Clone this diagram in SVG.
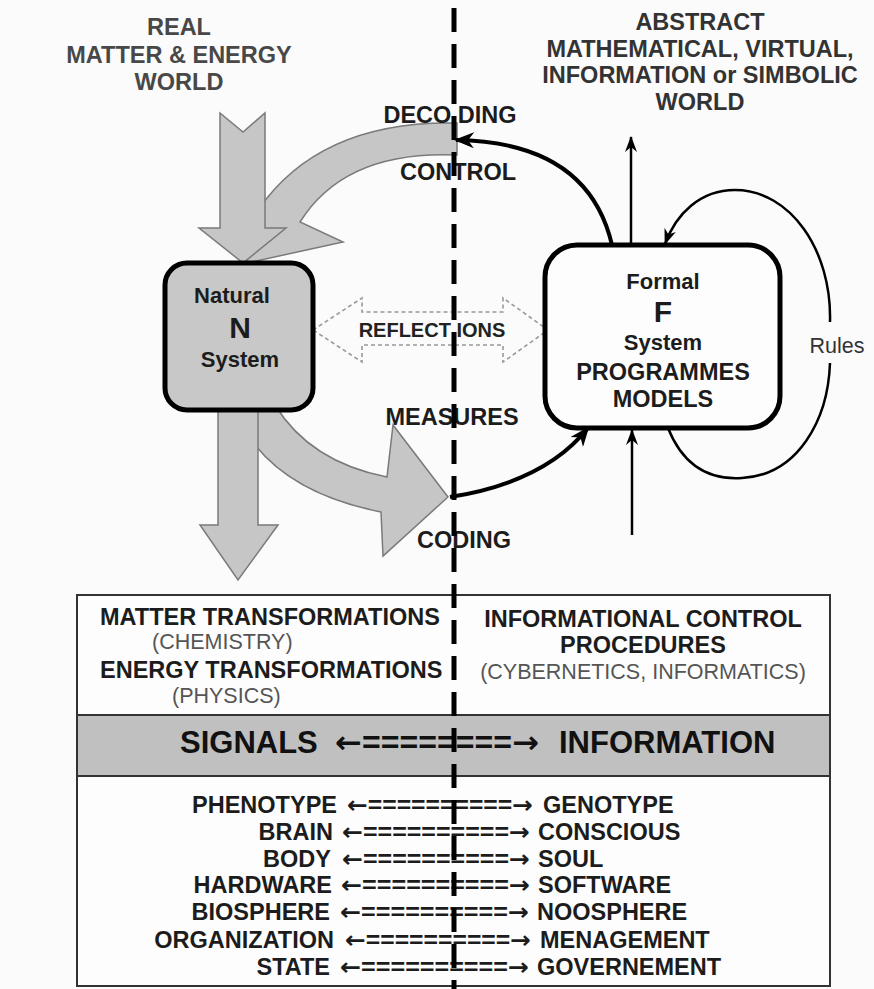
<svg xmlns="http://www.w3.org/2000/svg" width="874" height="989" viewBox="0 0 874 989">
<defs>
<style>
text{font-family:"Liberation Sans",Arial,"DejaVu Sans",sans-serif}
.b{font-weight:bold;font-size:23.5px;fill:#1c1c1c}
.t{font-weight:bold;font-size:23.5px;fill:#484848;text-anchor:middle}
.r{font-size:21.5px;fill:#555}
.c{text-anchor:middle}
.e{text-anchor:end}
.big{font-weight:bold;font-size:31px;fill:#111}
.ar{font-family:"DejaVu Sans",sans-serif;font-weight:bold}
.ga{fill:#c6c6c6;stroke:#7a7a7a;stroke-width:1.5}
.bl{fill:none;stroke:#000;stroke-width:4}
.th{fill:none;stroke:#000;stroke-width:2.5}
.node{stroke:#000;stroke-width:5}
</style>
<marker id="ah" viewBox="0 0 20 16" refX="18" refY="8" markerWidth="20" markerHeight="16" orient="auto" markerUnits="userSpaceOnUse"><path d="M0,0 L20,8 L0,16 L6,8 z" fill="#000"/></marker>
<marker id="ah2" viewBox="0 0 16 12" refX="15" refY="6" markerWidth="16" markerHeight="12" orient="auto" markerUnits="userSpaceOnUse"><path d="M0,0 L16,6 L0,12 L5,6 z" fill="#000"/></marker>
</defs>
<rect x="0" y="0" width="874" height="989" fill="#fbfbfb"/>

<g id="titles">
<text class="t" x="179" y="35">REAL</text>
<text class="t" x="179" y="63">MATTER &amp; ENERGY</text>
<text class="t" x="179" y="90">WORLD</text>
<text class="t" x="700" y="30" style="fill:#333">ABSTRACT</text>
<text class="t" x="700" y="57" style="fill:#333">MATHEMATICAL, VIRTUAL,</text>
<text class="t" x="700" y="83" style="fill:#333">INFORMATION or SIMBOLIC</text>
<text class="t" x="700" y="110" style="fill:#333">WORLD</text>
</g>

<g id="table">
<rect x="77" y="595" width="753" height="391" fill="#fdfdfd" stroke="#333" stroke-width="2"/>
<rect x="77" y="715" width="753" height="61" fill="#c0c0c0" stroke="#333" stroke-width="2"/>
<text class="b" x="100" y="625">MATTER TRANSFORMATIONS</text>
<text class="r" x="152" y="649">(CHEMISTRY)</text>
<text class="b" x="100" y="678">ENERGY TRANSFORMATIONS</text>
<text class="r" x="172" y="703">(PHYSICS)</text>
<text class="b c" x="643" y="627">INFORMATIONAL CONTROL</text>
<text class="b c" x="643" y="653">PROCEDURES</text>
<text class="r c" x="643" y="679">(CYBERNETICS, INFORMATICS)</text>
<text class="big" x="180" y="753">SIGNALS</text>
<text class="big" x="335" y="753" textLength="204" lengthAdjust="spacingAndGlyphs"><tspan class="ar">←</tspan>========<tspan class="ar">→</tspan></text>
<text class="big" x="559" y="753">INFORMATION</text>
<g id="pairs">
<text class="b e" x="337" y="813">PHENOTYPE</text>
<text class="b" x="347" y="813" textLength="186" lengthAdjust="spacingAndGlyphs"><tspan class="ar">←</tspan>==========<tspan class="ar">→</tspan></text>
<text class="b" x="543" y="813">GENOTYPE</text>
<text class="b e" x="333" y="840">BRAIN</text>
<text class="b" x="342" y="840" textLength="188" lengthAdjust="spacingAndGlyphs"><tspan class="ar">←</tspan>==========<tspan class="ar">→</tspan></text>
<text class="b" x="538" y="840">CONSCIOUS</text>
<text class="b e" x="331" y="867">BODY</text>
<text class="b" x="342" y="867" textLength="188" lengthAdjust="spacingAndGlyphs"><tspan class="ar">←</tspan>==========<tspan class="ar">→</tspan></text>
<text class="b" x="538" y="867">SOUL</text>
<text class="b e" x="332" y="893">HARDWARE</text>
<text class="b" x="341" y="893" textLength="189" lengthAdjust="spacingAndGlyphs"><tspan class="ar">←</tspan>==========<tspan class="ar">→</tspan></text>
<text class="b" x="538" y="893">SOFTWARE</text>
<text class="b e" x="330" y="920">BIOSPHERE</text>
<text class="b" x="340" y="920" textLength="189" lengthAdjust="spacingAndGlyphs"><tspan class="ar">←</tspan>==========<tspan class="ar">→</tspan></text>
<text class="b" x="537" y="920">NOOSPHERE</text>
<text class="b e" x="334" y="948">ORGANIZATION</text>
<text class="b" x="345" y="948" textLength="186" lengthAdjust="spacingAndGlyphs"><tspan class="ar">←</tspan>==========<tspan class="ar">→</tspan></text>
<text class="b" x="540" y="948">MENAGEMENT</text>
<text class="b e" x="330" y="975">STATE</text>
<text class="b" x="340" y="975" textLength="189" lengthAdjust="spacingAndGlyphs"><tspan class="ar">←</tspan>==========<tspan class="ar">→</tspan></text>
<text class="b" x="537" y="975">GOVERNEMENT</text>
</g>
</g>

<g id="flows">
<path class="ga" d="M457,123 Q320,120 258,210 L238,214 L247,263 L343,242 L300,222 Q345,150 457,155 Z"/>
<polygon class="ga" points="220,113 243,132 265,113 265,228 286,228 243,263 199,228 220,228"/>
<path class="ga" d="M275,405 Q310,462 387,477 L393,425 L448,497 L383,556 L381,512 Q295,495 255,445 L255,405 Z"/>
<polygon class="ga" points="218,405 258,405 258,525 278,525 238,580 200,525 218,525"/>
<polygon points="313,330 362,298 362,312 503,312 503,298 548,330 503,362 503,345 362,345 362,362" fill="none" stroke="#999" stroke-width="1.6" stroke-dasharray="4 3"/>
</g>

<g id="node-natural">
<rect class="node" x="165" y="263" width="148" height="147" rx="22" fill="#c8c8c8"/>
<text class="b c" x="232" y="303" style="font-size:22px">Natural</text>
<text class="b c" x="240" y="338" style="font-size:30px">N</text>
<text class="b c" x="240" y="367" style="font-size:22px">System</text>
</g>

<g id="node-formal">
<rect class="node" x="545" y="245" width="235" height="183" rx="32" fill="#fdfdfd"/>
<text class="b c" x="663" y="289" style="font-size:22px">Formal</text>
<text class="b c" x="663" y="322" style="font-size:30px">F</text>
<text class="b c" x="663" y="350" style="font-size:22px">System</text>
<text class="b c" x="663" y="380">PROGRAMMES</text>
<text class="b c" x="663" y="407">MODELS</text>
</g>

<g id="connectors">
<path class="bl" d="M612,245 Q588,142 456,140" marker-end="url(#ah)"/>
<path class="bl" d="M450,497 Q545,482 588,428" marker-end="url(#ah)"/>
<line class="th" x1="631" y1="245" x2="631" y2="137" marker-end="url(#ah2)"/>
<line class="th" x1="632" y1="535" x2="632" y2="430" marker-end="url(#ah2)"/>
<path class="th" d="M668,428 C684,468 712,480 742,478 C798,475 828,420 830,363"/>
<path class="th" d="M830,322 C832,250 790,190 735,190 C700,190 676,214 665,244" marker-end="url(#ah2)"/>
</g>

<g id="labels">
<text class="b c" x="450" y="123">DECO DING</text>
<text class="b c" x="458" y="180">CONTROL</text>
<text class="b c" x="432" y="337" style="font-size:20px;fill:#222">REFLECT IONS</text>
<text class="b c" x="452" y="425">MEASURES</text>
<text class="b c" x="464" y="548">CODING</text>
<text class="c" x="837" y="353" style="font-size:21.5px;fill:#333">Rules</text>
</g>

<line id="border-line" x1="454" y1="0" x2="454" y2="989" stroke="#000" stroke-width="5" stroke-dasharray="24 12" stroke-dashoffset="-8"/>
</svg>
